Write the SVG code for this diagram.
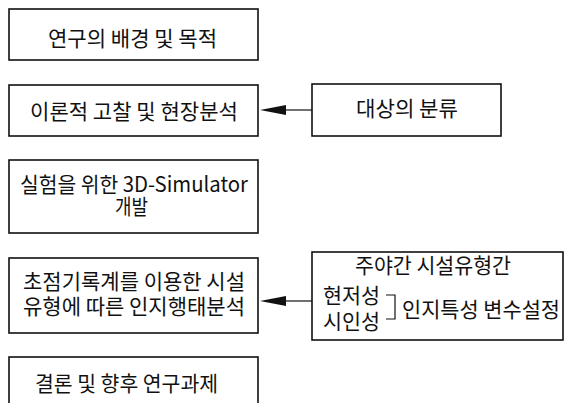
<svg xmlns="http://www.w3.org/2000/svg" width="565" height="403" viewBox="0 0 565 403">
<style>
.box{fill:#fff;stroke:#111;stroke-width:1.6}
.t{font-family:"Noto Sans CJK KR","Noto Sans",sans-serif;font-size:21px;fill:#111}
.c{text-anchor:middle}
.ln{stroke:#111;stroke-width:1.2;fill:none}
</style>
<rect width="565" height="403" fill="#fff"/>
<g id="n1"><rect class="box" x="9" y="9" width="249" height="51"/>
<text class="t" x="48" y="46" textLength="169" lengthAdjust="spacingAndGlyphs">연구의 배경 및 목적</text></g>
<g id="n2"><rect class="box" x="9" y="85" width="249" height="51"/>
<text class="t" x="30" y="119" textLength="208" lengthAdjust="spacingAndGlyphs">이론적 고찰 및 현장분석</text></g>
<g id="n3"><rect class="box" x="312" y="84" width="189" height="52"/>
<text class="t" x="356" y="116" textLength="102" lengthAdjust="spacingAndGlyphs">대상의 분류</text></g>
<g id="n4"><rect class="box" x="9" y="160" width="249" height="73"/>
<text class="t" x="20" y="192" textLength="228" lengthAdjust="spacingAndGlyphs">실험을 위한 3D-Simulator</text>
<text class="t" x="115" y="214" textLength="33" lengthAdjust="spacingAndGlyphs">개발</text></g>
<g id="n5"><rect class="box" x="9" y="258" width="249" height="75"/>
<text class="t" x="23" y="289" textLength="222" lengthAdjust="spacingAndGlyphs">초점기록계를 이용한 시설</text>
<text class="t" x="23" y="314" textLength="222" lengthAdjust="spacingAndGlyphs">유형에 따른 인지행태분석</text></g>
<g id="n6"><rect class="box" x="312" y="252" width="251" height="88"/>
<text class="t" x="355" y="273" textLength="156" lengthAdjust="spacingAndGlyphs">주야간 시설유형간</text>
<text class="t" x="323" y="303" textLength="57" lengthAdjust="spacingAndGlyphs">현저성</text>
<text class="t" x="323" y="329" textLength="57" lengthAdjust="spacingAndGlyphs">시인성</text>
<path class="ln" d="M386 295H395V319H386"/>
<text class="t" x="402" y="317" textLength="158" lengthAdjust="spacingAndGlyphs">인지특성 변수설정</text></g>
<g id="n7"><rect class="box" x="9" y="357" width="249" height="60"/>
<text class="t" x="35" y="391" textLength="183" lengthAdjust="spacingAndGlyphs">결론 및 향후 연구과제</text></g>
<g id="connectors">
<path class="ln" d="M312 110H284"/>
<polygon points="260,110 286,105 286,115" fill="#111"/>
<path class="ln" d="M312 301H284"/>
<polygon points="260,301 286,296 286,306" fill="#111"/>
</g>
</svg>
